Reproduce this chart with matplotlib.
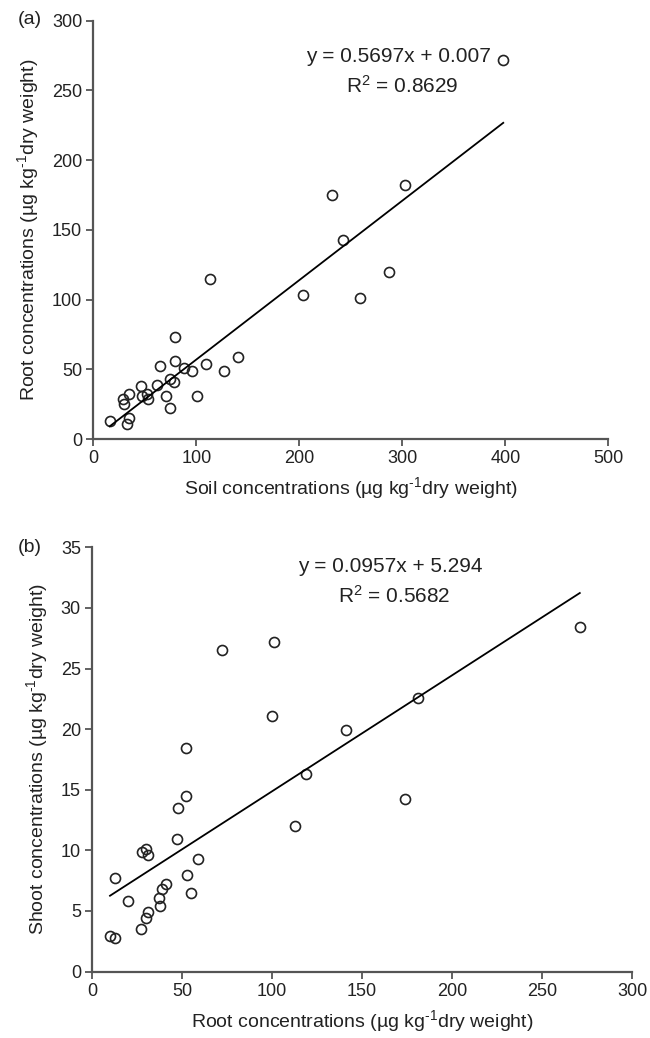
import matplotlib
matplotlib.use("Agg")
import matplotlib.pyplot as plt
import numpy as np

plt.rcParams['font.family'] = ['Liberation Sans', 'DejaVu Sans']
plt.rcParams['mathtext.fontset'] = 'custom'
plt.rcParams['mathtext.rm'] = 'Liberation Sans'
plt.rcParams['mathtext.it'] = 'Liberation Sans:italic'

# Panel (a): soil vs root concentrations
soil_a = [16, 33, 35, 30, 29, 35, 46, 47, 52, 53.5, 62, 65, 71, 74, 74, 78,
          79, 79, 88, 96, 101, 109, 113, 127, 140, 204, 232, 242, 259, 287, 303, 398]
root_a = [13, 11, 15, 25, 29, 32, 38, 31, 32, 29, 39, 52, 31, 22, 43, 41,
          56, 73, 51, 48.5, 31, 54, 115, 48.5, 59, 103, 175, 143, 101, 120, 182, 272]
fit_a = (0.5697, 0.007)
eq_a = ["y = 0.5697x + 0.007", r"R$\mathregular{^2}$ = 0.8629"]

# Panel (b): root vs shoot concentrations
root_b = [72, 100, 52, 52, 48, 47, 28, 30, 31, 59, 13, 53, 55, 41, 39, 37, 38,
          20, 31, 30, 27, 10, 13, 101, 271, 181, 141, 119, 174, 113]
shoot_b = [26.5, 21.1, 18.4, 14.5, 13.5, 10.9, 9.9, 10.1, 9.6, 9.3, 7.7, 8.0, 6.5,
           7.2, 6.8, 6.1, 5.4, 5.8, 4.9, 4.4, 3.5, 2.9, 2.8, 27.2, 28.4, 22.6,
           19.9, 16.3, 14.2, 12.0]
fit_b = (0.0957, 5.294)
eq_b = ["y = 0.0957x + 5.294", r"R$\mathregular{^2}$ = 0.5682"]

xticks_a = [0, 100, 200, 300, 400, 500]
yticks_a = [0, 50, 100, 150, 200, 250, 300]
xticks_b = [0, 50, 100, 150, 200, 250, 300]
yticks_b = [0, 5, 10, 15, 20, 25, 30, 35]

W, H = 650, 1038
fig = plt.figure(figsize=(W / 100, H / 100), dpi=100)

def px_axes(l, r, t, b):
    return fig.add_axes([l / W, 1 - b / H, (r - l) / W, (b - t) / H])

ax_a = px_axes(93.3, 608.3, 20.7, 439)
ax_b = px_axes(92, 632, 547.3, 971.5)

unit = "(\u00b5g kg$\\mathregular{^{\u2010 1}}$dry weight)"
unit = "(\u00b5g kg$\\mathregular{^{\u20101}}$dry weight)"

def style(ax, x, y, fit, eq, xt, yt, xlabel, ylabel, eqx, eqy):
    ax.plot(x, y, linestyle='none', marker='o', markersize=7.2,
            markerfacecolor='none', markeredgecolor='#222222', markeredgewidth=1.2)
    xs = np.array([min(x), max(x)])
    ax.plot(xs, fit[0] * xs + fit[1], color='black', linewidth=1.3)
    ax.set_xlim(xt[0], xt[-1])
    ax.set_ylim(yt[0], yt[-1])
    ax.set_xticks(xt)
    ax.set_yticks(yt)
    for s in ['top', 'right']:
        ax.spines[s].set_visible(False)
    for s in ['left', 'bottom']:
        ax.spines[s].set_color('#555555')
        ax.spines[s].set_linewidth(1.6)
    ax.tick_params(direction='out', length=5, width=1.3, color='#555555',
                   labelsize=13, labelcolor='#222222', pad=3)
    ax.set_xlabel(xlabel, fontsize=14, color='#222222', labelpad=6)
    ax.set_ylabel(ylabel, fontsize=14, color='#222222', labelpad=8)
    ax.patch.set_alpha(0)
    fig.text(eqx / W, 1 - eqy / H, eq[0], ha='center', va='center', fontsize=15,
             color='#222222')
    fig.text((eqx + 4) / W, 1 - (eqy + 29) / H, eq[1], ha='center', va='center',
             fontsize=15, color='#222222')
    return ax

style(ax_a, soil_a, root_a, fit_a, eq_a, xticks_a, yticks_a,
      "Soil concentrations " + unit, "Root concentrations " + unit, 398, 57)
style(ax_b, root_b, shoot_b, fit_b, eq_b, xticks_b, yticks_b,
      "Root concentrations " + unit, "Shoot concentrations " + unit, 390, 567)

fig.text(30 / W, 1 - 20 / H, "(a)", ha='center', va='center', fontsize=14, color='#222222')
fig.text(30 / W, 1 - 547 / H, "(b)", ha='center', va='center', fontsize=14, color='#222222')

fig.savefig("out.png", dpi=100)
